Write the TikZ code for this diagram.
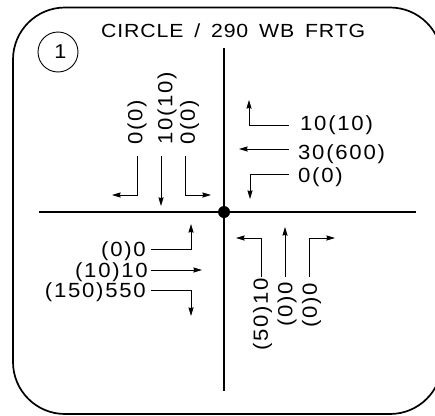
\documentclass[tikz,border=0pt]{standalone}
\usepackage{fontspec}
\setmainfont[LetterSpace=8.5,FakeStretch=1.08]{Liberation Sans}
\newfontfamily\ttlfont[LetterSpace=4.5,FakeStretch=1.12,WordSpace=1.6]{Liberation Sans}
\usetikzlibrary{arrows.meta}
\tikzset{
  x=1pt,y=-1pt,
  lab/.style={inner sep=0pt,font=\fontsize{20.5}{21}\selectfont},
  ttl/.style={inner sep=0pt,font=\ttlfont\fontsize{19}{19}\selectfont},
  conn/.style={line width=0.9pt,-{Stealth[length=8.5pt,width=5pt,inset=0.5pt]}},
  axis/.style={line width=1.7pt},
  frame/.style={line width=1.7pt,rounded corners=52pt},
}
\begin{document}
\begin{tikzpicture}
\useasboundingbox (0,0) rectangle (435,415);
\begin{scope}
\clip (0,0) rectangle (435,415);
\draw[frame] (13,7.5) rectangle (442,414);
\end{scope}
\node[ttl,anchor=west] (title) at (101,30.5) {CIRCLE / 290 WB FRTG};
\node[circle,draw,line width=0.9pt,minimum size=40pt,inner sep=0pt] (num) at (58,52) {};
\node[inner sep=0pt,font=\fontsize{20}{20}\selectfont] (numl) at (60.5,52) {1};
\coordinate (h1) at (39,212);
\coordinate (h2) at (416,212);
\coordinate (v1) at (224,48);
\coordinate (v2) at (224,391);
\draw[axis] (h1) -- (h2);
\draw[axis] (v1) -- (v2);
\node[circle,fill=black,minimum size=12pt,inner sep=0pt] (dot) at (224,212) {};
% top-left
\node[lab,rotate=90,anchor=west] (tl1) at (137,145) {0(0)};
\node[lab,rotate=90,anchor=west] (tl2) at (167,145) {10(10)};
\node[lab,rotate=90,anchor=west] (tl3) at (189.5,145) {0(0)};
\coordinate (as1) at (137.5,156);
\coordinate (as2) at (161,156);
\coordinate (as3) at (185.5,156);
\coordinate (a1) at (112,195);
\coordinate (a2) at (161,206);
\coordinate (a3) at (211,195);
\draw[conn] (as1) |- (a1);
\draw[conn] (as2) -- (a2);
\draw[conn] (as3) |- (a3);
% top-right
\node[lab,anchor=west] (tr1) at (300,125.5) {10(10)};
\node[lab,anchor=west] (tr2) at (298,154.5) {30(600)};
\node[lab,anchor=west] (tr3) at (298,177.5) {0(0)};
\coordinate (b1) at (249,100);
\coordinate (b2) at (239,149);
\coordinate (b3) at (250,199);
\coordinate (bs1) at (289,125);
\coordinate (bs2) at (289,149);
\coordinate (bs3) at (289,174);
\draw[conn] (bs1) -| (b1);
\draw[conn] (bs2) -- (b2);
\draw[conn] (bs3) -| (b3);
% bottom-left
\node[lab,anchor=east] (bl1) at (146,251) {(0)0};
\node[lab,anchor=east] (bl2) at (148,272) {(10)10};
\node[lab,anchor=east] (bl3) at (146,292.5) {(150)550};
\coordinate (c1) at (191,224);
\coordinate (c2) at (202,270);
\coordinate (c3) at (191,316);
\coordinate (cs1) at (151,249);
\coordinate (cs2) at (151,270);
\coordinate (cs3) at (151,290);
\draw[conn] (cs1) -| (c1);
\draw[conn] (cs2) -- (c2);
\draw[conn] (cs3) -| (c3);
% bottom-right
\node[lab,rotate=90,anchor=east] (br1) at (262.5,278) {(50)10};
\node[lab,rotate=90,anchor=east] (br2) at (287,282) {(0)0};
\node[lab,rotate=90,anchor=east] (br3) at (311.5,283) {(0)0};
\coordinate (d1) at (236,238);
\coordinate (d2) at (285,227);
\coordinate (d3) at (335,238);
\coordinate (ds1) at (261,277);
\coordinate (ds2) at (285,277);
\coordinate (ds3) at (309,277);
\draw[conn] (ds1) |- (d1);
\draw[conn] (ds2) -- (d2);
\draw[conn] (ds3) |- (d3);
\end{tikzpicture}
\end{document}
